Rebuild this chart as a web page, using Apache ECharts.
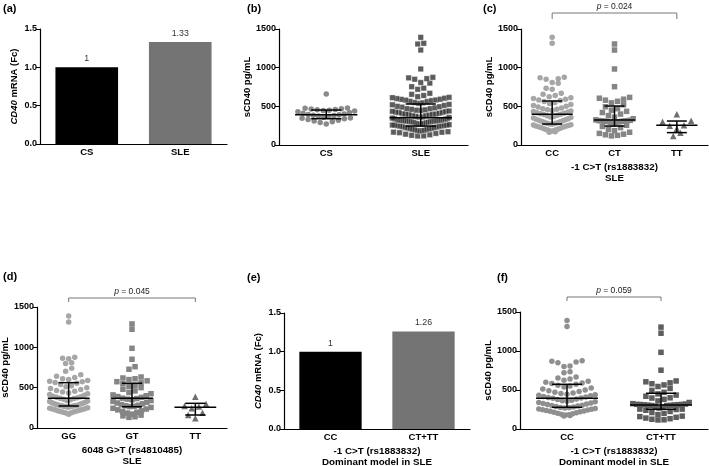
<!DOCTYPE html>
<html><head><meta charset="utf-8">
<script src="https://cdn.jsdelivr.net/npm/echarts@6/dist/echarts.min.js"></script>
<style>html,body{margin:0;padding:0;background:#fff}#c{width:709px;height:466px}</style>
</head><body><div id="c"></div>
<script>
// ---------------- DATA ----------------
const aCats = ['CS', 'SLE'];
const aVals = [1, 1.33];
const eCats = ['CC', 'CT+TT'];
const eVals = [1, 1.26];
const mrnaTicks = [0, 0.5, 1.0, 1.5];
const scdTicks = [0, 500, 1000, 1500];

const bCats = ['CS', 'SLE'];
const cCats = ['CC', 'CT', 'TT'];
const dCats = ['GG', 'GT', 'TT'];
const fCats = ['CC', 'CT+TT'];

const csVals = [660, 480, 475, 470, 465, 460, 455, 450, 445, 440, 430, 420, 410, 400, 395, 390, 385, 380, 375, 370, 360, 350, 345, 340, 330, 320, 310, 300, 290, 270];

const ccVals = [1392, 1315, 875, 868, 858, 850, 808, 800, 735, 720, 668, 655, 640, 625, 612, 600, 590, 582, 574,
  562, 550, 538, 525, 512, 500, 490, 480, 470, 462, 455, 447, 440, 432, 425, 418, 410, 404, 399,
  394, 386, 378, 370, 362, 355, 348, 340, 333, 326, 320, 313, 306, 300, 294, 288, 282, 277, 272,
  268, 263, 258, 252, 247, 242, 237, 232, 226, 220, 214, 208, 202, 196, 190, 184, 178, 172, 166];
const ctVals = [1306, 1228, 983, 754, 616, 605, 592, 580, 565, 545, 520,
  495, 470, 450, 435, 420, 400, 380, 360, 340, 325, 320,
  316, 314, 312, 310, 308, 306, 304, 300, 292, 280, 268,
  255, 240, 225, 200, 185, 165, 150, 140, 132, 125, 118];
const ttVals = [397, 315, 301, 255, 250, 211, 159, 116];

const ggVals = [1388, 1314, 876, 866, 860, 810, 800, 740, 705, 660, 640, 625, 612, 600, 590, 580, 572, 565,
  555, 540, 525, 512, 500, 490, 478, 465, 455, 445, 435, 425, 415, 405, 395, 388, 380, 375, 370,
  365, 357, 349, 341, 334, 327, 320, 313, 307, 301, 296, 291, 286, 282, 278, 275, 272, 270, 268,
  262, 256, 250, 245, 240, 235, 230, 225, 220, 215, 210, 205, 200, 195, 190, 185, 178, 170];
const gtVals = [1290, 1224, 988, 852, 760, 728, 632, 620, 610, 600, 585, 574, 560,
  548, 530, 515, 500, 480, 460, 440, 425, 410, 400, 390, 380, 370,
  365, 358, 350, 340, 330, 320, 310, 300, 290, 282, 275, 270, 265,
  255, 245, 235, 225, 215, 205, 195, 185, 172, 160, 150, 140, 132];
const ttdVals = [388, 298, 273, 268, 244, 190, 161, 120];

const sleVals = ccVals.concat(ctVals, ttVals);
const ctttVals = ctVals.concat(ttVals);

// median and interquartile range lines
const bMed = [390, 352], bQ1 = [340, 245], bQ3 = [452, 530];
const cMed = [397, 323, 255], cQ1 = [271, 245, 160], cQ3 = [569, 504, 310];
const dMed = [368, 368, 256], dQ1 = [273, 264, 161], dQ3 = [562, 554, 306];
const fMed = [393, 308], fQ1 = [278, 253], fQ3 = [573, 458];

const pTexts = ['0.024', '0.045', '0.059'];
const panelLabels = ['(a)', '(b)', '(c)', '(d)', '(e)', '(f)'];

// ---------------- LAYOUT ----------------
const FONT = '"Liberation Sans", Arial, sans-serif';
const grids = [
  {left: 40, top: 29, width: 187, height: 115},
  {left: 279, top: 29, width: 189, height: 116},
  {left: 521, top: 29, width: 187, height: 116},
  {left: 37, top: 307, width: 190, height: 121},
  {left: 284, top: 313, width: 186, height: 116},
  {left: 520, top: 312, width: 188, height: 117}
];
const catsByGrid = [aCats, bCats, cCats, dCats, eCats, fCats];

// deterministic column-scatter layout: values binned in rows, lowest in the centre
function swarm(vals, idx, gi, markerPx) {
  const g = grids[gi];
  const n = catsByGrid[gi].length;
  const catPx = g.width / n;
  const valPerPx = 1500 / g.height;
  const binH = 1.25 * markerPx * valPerPx;
  const bins = {};
  vals.forEach(v => { const k = Math.floor(v / binH); (bins[k] = bins[k] || []).push(v); });
  const out = [];
  const maxW = 0.6 * catPx;
  Object.keys(bins).forEach(key => {
    const arr = bins[key].slice().sort((a, b) => a - b);
    const m = arr.length;
    const step = m > 1 ? Math.min(markerPx * 1.1, maxW / (m - 1)) : 0;
    const slots = [];
    for (let k = 0; k < m; k++) slots.push(k - (m - 1) / 2);
    slots.sort((a, b) => Math.abs(a) - Math.abs(b) || a - b);
    arr.forEach((v, j) => out.push([idx + slots[j] * step / catPx, v]));
  });
  return out;
}

const baseText = {fontFamily: FONT, color: '#000'};

const xAxes = [], yAxes = [];
catsByGrid.forEach((cats, gi) => {
  xAxes.push({
    type: 'category', gridIndex: gi, data: cats,
    axisLine: {onZero: false, lineStyle: {color: '#000', width: 1.2}},
    axisTick: {alignWithLabel: true, length: 3, lineStyle: {color: '#000'}},
    axisLabel: Object.assign({fontSize: 9.5, fontWeight: 'bold', margin: 3}, baseText),
    splitLine: {show: false}
  });
  const isMrna = (gi === 0 || gi === 4);
  const ticks = isMrna ? mrnaTicks : scdTicks;
  yAxes.push({
    type: 'value', gridIndex: gi,
    min: ticks[0], max: ticks[ticks.length - 1], interval: ticks[1] - ticks[0],
    axisLine: {show: true, onZero: false, lineStyle: {color: '#000', width: 1.2}},
    axisTick: {show: true, length: 4, lineStyle: {color: '#000'}},
    axisLabel: Object.assign({fontSize: 9, fontWeight: 'bold', margin: 3,
      formatter: v => isMrna ? v.toFixed(1) : String(v)}, baseText),
    splitLine: {show: false},
    name: isMrna ? '{i|CD40} mRNA (Fc)' : 'sCD40 pg/mL',
    nameLocation: 'middle',
    nameGap: [21, 22, 23, 20, 21, 23][gi],
    nameTextStyle: Object.assign({fontSize: 9.5, fontWeight: 'bold',
      rich: {i: {fontStyle: 'italic', fontWeight: 'bold', fontSize: 9.5, fontFamily: FONT}}}, baseText)
  });
});
// x axis titles
const xNames = {2: '-1 C>T (rs1883832)\nSLE', 3: '6048 G>T (rs4810485)\nSLE', 4: '-1 C>T (rs1883832)\nDominant model in SLE', 5: '-1 C>T (rs1883832)\nDominant model in SLE'};
Object.keys(xNames).forEach(k => {
  Object.assign(xAxes[k], {name: xNames[k], nameLocation: 'middle', nameGap: 17,
    nameTextStyle: Object.assign({fontSize: 9.8, fontWeight: 'bold', lineHeight: 11}, baseText)});
});
// hidden numeric x axes for scatter panels (b,c,d,f)
const scatterGrids = [1, 2, 3, 5];
const valX = {};
scatterGrids.forEach(gi => {
  valX[gi] = xAxes.length;
  xAxes.push({type: 'value', gridIndex: gi, show: false, min: -0.5, max: catsByGrid[gi].length - 0.5,
    axisLine: {onZero: false}});
});

function scatterS(gi, vals, idx, symbol, size, color, extra) {
  return Object.assign({
    type: 'scatter', xAxisIndex: valX[gi], yAxisIndex: gi,
    symbol: symbol, symbolSize: size, z: 2,
    itemStyle: {color: color, opacity: 1},
    data: swarm(vals, idx, gi, size),
    silent: true
  }, extra || {});
}

function errRender(params, api) {
  const x = api.value(0), q1 = api.value(1), med = api.value(2), q3 = api.value(3);
  const L = (a, b) => ({type: 'line', shape: {x1: a[0], y1: a[1], x2: b[0], y2: b[1]}, style: {stroke: '#000', lineWidth: 1.5}});
  return {type: 'group', children: [
    L(api.coord([x - 0.33, med]), api.coord([x + 0.33, med])),
    L(api.coord([x - 0.16, q1]), api.coord([x + 0.16, q1])),
    L(api.coord([x - 0.16, q3]), api.coord([x + 0.16, q3])),
    L(api.coord([x, q1]), api.coord([x, q3]))
  ]};
}
function errS(gi, q1, med, q3) {
  return {type: 'custom', xAxisIndex: valX[gi], yAxisIndex: gi, z: 5, silent: true,
    renderItem: errRender, data: med.map((m, i) => [i, q1[i], m, q3[i]])};
}
function bracketS(gi, i0, i1, text, up, drop) {
  return {type: 'custom', xAxisIndex: valX[gi], yAxisIndex: gi, z: 5, silent: true, clip: false,
    renderItem: (params, api) => {
      const p0 = api.coord([api.value(0), 1500]);
      const p1 = api.coord([api.value(1), 1500]);
      const y = p0[1] - up;
      return {type: 'group', children: [
        {type: 'polyline', shape: {points: [[p0[0], y + drop], [p0[0], y], [p1[0], y], [p1[0], y + drop]]},
          style: {stroke: '#777', lineWidth: 1, fill: null}},
        {type: 'text', style: {text: '{i|p} = ' + text, x: (p0[0] + p1[0]) / 2, y: y - 2,
          align: 'center', verticalAlign: 'bottom', fontSize: 8.5, fontFamily: FONT, fill: '#222',
          rich: {i: {fontStyle: 'italic', fontSize: 8.5, fontFamily: FONT, fill: '#222'}}}}
      ]};
    },
    data: [[i0, i1]]};
}
function barS(gi, vals, colors) {
  return {type: 'bar', xAxisIndex: gi, yAxisIndex: gi, barWidth: '67%', silent: true,
    data: vals.map((v, i) => ({value: v, itemStyle: {color: colors[i]}})),
    label: {show: true, position: 'top', distance: 4, fontSize: 8.8, fontFamily: FONT, color: '#333',
      formatter: p => String(p.value)}};
}

const series = [
  barS(0, aVals, ['#000000', '#747474']),
  scatterS(1, csVals, 0, 'circle', 5.5, '#8a8a8a'),
  scatterS(1, sleVals, 1, 'rect', 5.5, '#333333', {itemStyle: {color: '#333333', borderColor: '#fff', borderWidth: 0.4}}),
  errS(1, bQ1, bMed, bQ3),
  scatterS(2, ccVals, 0, 'circle', 5.5, '#a6a6a6'),
  scatterS(2, ctVals, 1, 'rect', 5.5, '#858585'),
  scatterS(2, ttVals, 2, 'triangle', 6.5, '#6e6e6e'),
  errS(2, cQ1, cMed, cQ3),
  bracketS(2, 0, 2, pTexts[0], 16, 6),
  scatterS(3, ggVals, 0, 'circle', 5.5, '#a6a6a6'),
  scatterS(3, gtVals, 1, 'rect', 5.5, '#858585'),
  scatterS(3, ttdVals, 2, 'triangle', 6.5, '#6e6e6e'),
  errS(3, dQ1, dMed, dQ3),
  bracketS(3, 0, 2, pTexts[1], 9, 4),
  barS(4, eVals, ['#000000', '#747474']),
  scatterS(5, ccVals, 0, 'circle', 5.5, '#8f8f8f'),
  scatterS(5, ctttVals, 1, 'rect', 5.5, '#5e5e5e'),
  errS(5, fQ1, fMed, fQ3),
  bracketS(5, 0, 1, pTexts[2], 15, 4)
];

const labelPos = [[3, 3], [247, 3], [483, 3], [3, 271], [247, 272], [497, 272]];
const graphic = panelLabels.map((t, i) => ({type: 'text', left: labelPos[i][0], top: labelPos[i][1],
  style: {text: t, fontSize: 11, fontWeight: 'bold', fontFamily: FONT, fill: '#000'}}));

const chart = echarts.init(document.getElementById('c'), null, {renderer: 'canvas'});
chart.setOption({
  animation: false,
  backgroundColor: '#fff',
  textStyle: {fontFamily: FONT},
  grid: grids.map(g => Object.assign({containLabel: false, outerBoundsMode: 'none'}, g)),
  xAxis: xAxes,
  yAxis: yAxes,
  series: series,
  graphic: graphic
});
</script></body></html>
